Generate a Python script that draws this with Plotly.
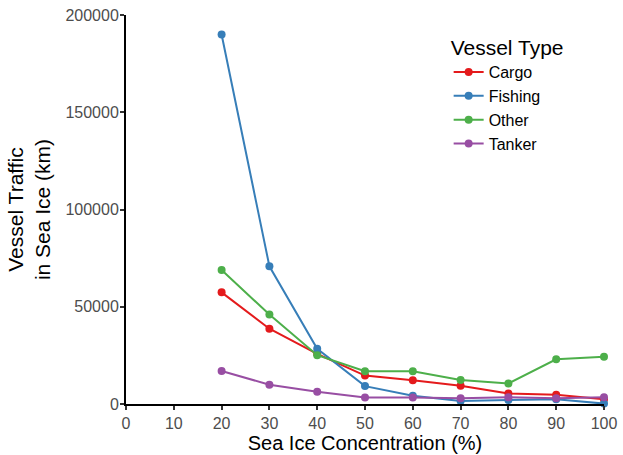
import plotly.graph_objects as go

conc = [20, 30, 40, 50, 60, 70, 80, 90, 100]
cargo = [57400, 38700, 25800, 14600, 12200, 9400, 5400, 4700, 2500]
fishing = [190000, 70800, 28400, 9200, 4200, 1600, 2000, 2500, 200]
other = [68900, 46000, 25100, 16800, 16800, 12300, 10600, 23000, 24300]
tanker = [17000, 9900, 6300, 3400, 3400, 3000, 3500, 3000, 3500]

series = [("Cargo", cargo, "#E41A1C"), ("Fishing", fishing, "#377EB8"),
          ("Other", other, "#4DAF4A"), ("Tanker", tanker, "#984EA3")]

fig = go.Figure()
for name, vals, col in series:
    fig.add_trace(go.Scatter(x=conc, y=vals, name=name, mode="lines+markers",
                             line=dict(color=col, width=2),
                             marker=dict(color=col, size=8),
                             cliponaxis=False))

font = "Liberation Sans, Arial, sans-serif"
fig.update_layout(
    width=623, height=455,
    margin=dict(l=126, r=19, t=15, b=51, autoexpand=False),
    plot_bgcolor="white", paper_bgcolor="white",
    font=dict(family=font, color="black"),
    showlegend=True,
    legend=dict(x=0.675, y=0.967, xanchor="left", yanchor="top",
                title=dict(text="Vessel Type", font=dict(size=21, color="black")),
                font=dict(size=16, color="black"), tracegroupgap=0,
                itemwidth=30, bgcolor="rgba(0,0,0,0)"),
    xaxis=dict(range=[0, 100], tickvals=list(range(0, 101, 10)), automargin=False,
               showgrid=False, zeroline=False, showline=True,
               linecolor="black", linewidth=2, ticks="outside", ticklen=4,
               tickcolor="#333333", tickwidth=1.5,
               tickfont=dict(size=16, color="#4d4d4d"),
               title=dict(text="Sea Ice Concentration (%)", font=dict(size=20), standoff=2)),
    yaxis=dict(range=[0, 200000], tickvals=[0, 50000, 100000, 150000, 200000],
               tickformat="d", automargin=False,
               showgrid=False, zeroline=False, showline=True,
               linecolor="black", linewidth=2, ticks="outside", ticklen=4,
               tickcolor="#333333", tickwidth=1.5, ticklabelstandoff=-2,
               tickfont=dict(size=16, color="#4d4d4d"),
               title=dict(text="Vessel Traffic<br>in Sea Ice (km)", font=dict(size=21), standoff=9)),
)
fig.write_html("out.html")
